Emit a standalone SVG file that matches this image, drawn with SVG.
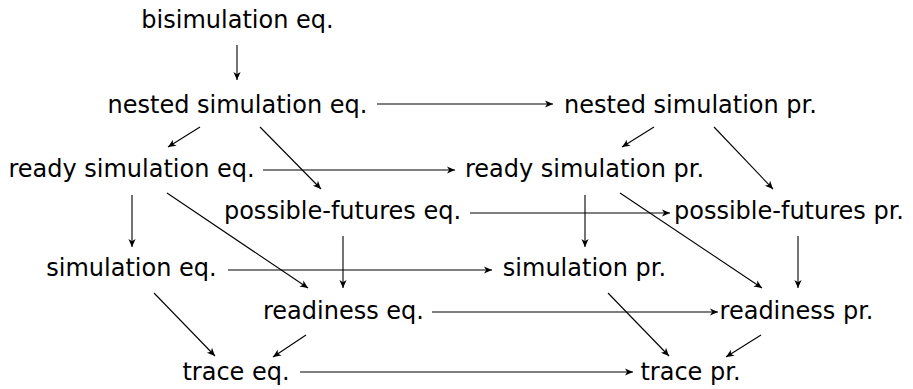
<svg xmlns="http://www.w3.org/2000/svg" width="913" height="389" viewBox="0 0 913 389">
<style>
text{font-family:"DejaVu Sans","Liberation Sans",sans-serif;font-size:24px;fill:#000;text-anchor:middle}
.c line{stroke:#000;stroke-width:1.1;fill:none;marker-end:url(#ah)}
</style>
<defs>
<marker id="ah" markerUnits="userSpaceOnUse" viewBox="-9 -5 10 10" refX="0" refY="0" markerWidth="10" markerHeight="10" orient="auto">
<path d="M0,0 L-8,-3.6 L-5.8,0 L-8,3.6 Z" fill="#000"/>
</marker>
</defs>
<rect width="913" height="389" fill="#fff"/>
<g id="bisim-eq"><text x="237.5" y="28">bisimulation eq.</text></g>
<g id="nested-eq"><text x="237.5" y="112.5">nested simulation eq.</text></g>
<g id="nested-pr"><text x="690.5" y="112.5">nested simulation pr.</text></g>
<g id="ready-eq"><text x="131.5" y="177">ready simulation eq.</text></g>
<g id="ready-pr"><text x="584.5" y="177">ready simulation pr.</text></g>
<g id="pf-eq"><text x="342.5" y="219">possible-futures eq.</text></g>
<g id="pf-pr"><text x="789" y="219">possible-futures pr.</text></g>
<g id="sim-eq"><text x="131.5" y="276">simulation eq.</text></g>
<g id="sim-pr"><text x="584.5" y="276">simulation pr.</text></g>
<g id="rd-eq"><text x="343.5" y="319">readiness eq.</text></g>
<g id="rd-pr"><text x="796.5" y="319">readiness pr.</text></g>
<g id="tr-eq"><text x="236" y="380">trace eq.</text></g>
<g id="tr-pr"><text x="690.5" y="380">trace pr.</text></g>
<g class="c" id="connectors">
<line x1="237" y1="45" x2="237" y2="80"/>
<line x1="377" y1="104" x2="553" y2="104"/>
<line x1="200" y1="127" x2="168" y2="147"/>
<line x1="260" y1="127" x2="321" y2="189"/>
<line x1="654" y1="127" x2="622" y2="147"/>
<line x1="714" y1="127" x2="773" y2="189"/>
<line x1="263" y1="170" x2="455" y2="170"/>
<line x1="132" y1="195" x2="132" y2="247"/>
<line x1="167" y1="193" x2="308" y2="288"/>
<line x1="585" y1="195" x2="585" y2="247"/>
<line x1="620" y1="193" x2="762" y2="288"/>
<line x1="470" y1="213" x2="670" y2="213"/>
<line x1="343" y1="236" x2="343" y2="288"/>
<line x1="798" y1="236" x2="798" y2="288"/>
<line x1="228" y1="270" x2="492" y2="270"/>
<line x1="432" y1="312" x2="718" y2="312"/>
<line x1="154" y1="293" x2="215" y2="356"/>
<line x1="306" y1="335" x2="273" y2="357"/>
<line x1="608" y1="293" x2="669" y2="356"/>
<line x1="761" y1="335" x2="726" y2="357"/>
<line x1="300" y1="372" x2="633" y2="372"/>
</g>
</svg>
